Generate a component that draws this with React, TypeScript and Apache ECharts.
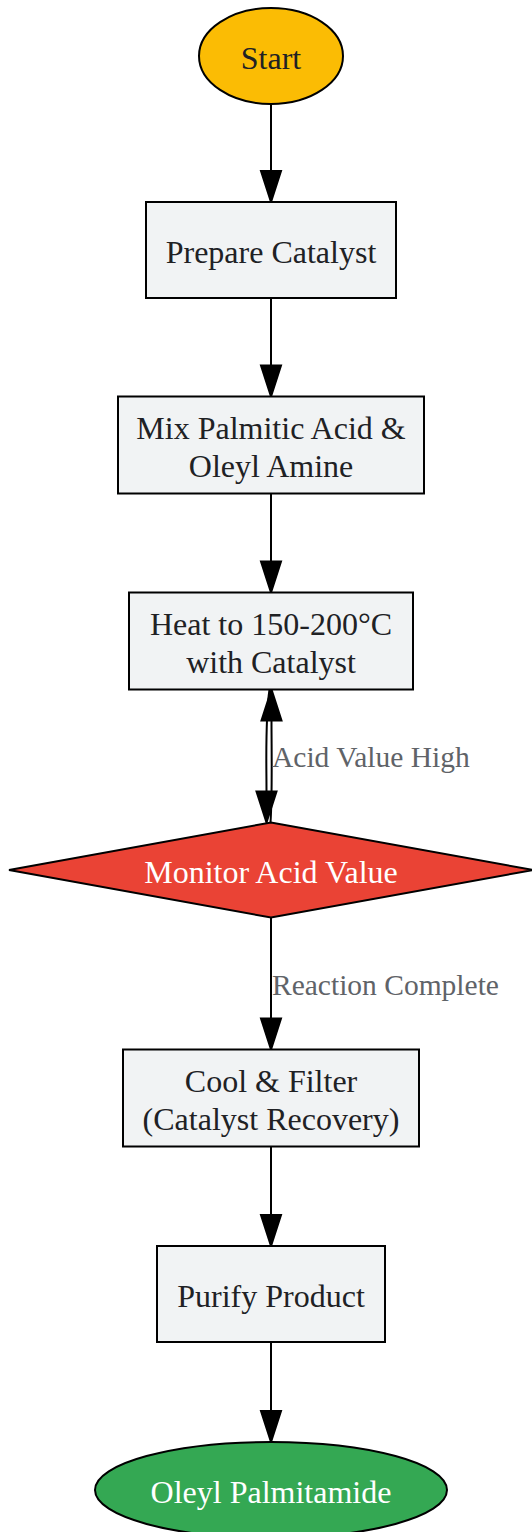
import React, { useEffect, useRef } from "react";
import * as echarts from "echarts";

const W = 532;
const H = 1532;

// Flowchart content
const nodeLabels = [
  "Start",
  "Prepare Catalyst",
  "Mix Palmitic Acid &\nOleyl Amine",
  "Heat to 150-200°C\nwith Catalyst",
  "Monitor Acid Value",
  "Cool & Filter\n(Catalyst Recovery)",
  "Purify Product",
  "Oleyl Palmitamide",
];
const nodeShapes = ["ellipse", "box", "box", "box", "diamond", "box", "box", "ellipse"];
const nodeFills = ["#fbbc04", "#f1f3f4", "#f1f3f4", "#f1f3f4", "#ea4335", "#f1f3f4", "#f1f3f4", "#34a853"];
const nodeTextColors = ["#202124", "#202124", "#202124", "#202124", "#ffffff", "#202124", "#202124", "#ffffff"];

// edges: [from, to, label]
const edgeFrom = [0, 1, 2, 3, 4, 4, 5, 6];
const edgeTo = [1, 2, 3, 4, 3, 5, 6, 7];
const edgeLabels = ["", "", "", "", "Acid Value High", "Reaction Complete", "", ""];

// layout (pixels)
const CX = 271;
const centerY = [56, 250, 445, 641, 870, 1098, 1294, 1490];
const halfW = [72, 125, 153, 142, 262, 148, 114, 176];
const halfH = [48, 48, 48.5, 48.5, 47.5, 48.5, 48, 48];

const FONT = "'Liberation Serif', 'Times New Roman', serif";
const NODE_FS = 32;
const EDGE_FS = 29.5;
const ARROW_LEN = 31;
const ARROW_HW = 10;
const TEXT_DY = 1.5;

function buildGraphics() {
  const els: any[] = [];
  edgeFrom.forEach((f, i) => {
    const t = edgeTo[i];
    const down = centerY[t] > centerY[f];
    const pairBack = edgeFrom.some((f2, j) => j !== i && f2 === t && edgeTo[j] === f);
    const srcY = down ? centerY[f] + halfH[f] : centerY[f] - halfH[f];
    const tipY = down ? centerY[t] - halfH[t] : centerY[t] + halfH[t];
    const baseY = down ? tipY - ARROW_LEN : tipY + ARROW_LEN;
    let tipX = CX;
    if (pairBack) {
      if (down) {
        tipX = CX - 4.5;
        els.push({
          type: "bezierCurve",
          shape: { x1: CX - 1.5, y1: srcY, cpx1: CX - 6, cpy1: srcY + 30, cpx2: tipX, cpy2: baseY - 30, x2: tipX, y2: baseY },
          style: { stroke: "#000", lineWidth: 2, fill: null },
        });
      } else {
        tipX = CX + 0.5;
        els.push({
          type: "bezierCurve",
          shape: { x1: CX - 0.5, y1: srcY, cpx1: CX + 1.5, cpy1: srcY - 30, cpx2: tipX, cpy2: baseY + 30, x2: tipX, y2: baseY },
          style: { stroke: "#000", lineWidth: 2, fill: null },
        });
      }
    } else {
      els.push({
        type: "line",
        shape: { x1: CX, y1: srcY, x2: CX, y2: baseY },
        style: { stroke: "#000", lineWidth: 2 },
      });
    }
    els.push({
      type: "polygon",
      shape: { points: [[tipX - ARROW_HW, baseY], [tipX + ARROW_HW, baseY], [tipX, tipY]] },
      style: { fill: "#000", stroke: "#000", lineWidth: 2 },
    });
    if (edgeLabels[i]) {
      const midY = (srcY + tipY) / 2;
      els.push({
        type: "text",
        x: CX + 1,
        y: midY + 1,
        style: {
          text: edgeLabels[i],
          fill: "#5f6368",
          fontSize: EDGE_FS,
          fontFamily: FONT,
          align: "left",
          verticalAlign: "middle",
        },
      });
    }
  });

  nodeLabels.forEach((label, i) => {
    const cy = centerY[i];
    const hw = halfW[i];
    const hh = halfH[i];
    const style = { fill: nodeFills[i], stroke: "#000", lineWidth: 2 };
    if (nodeShapes[i] === "ellipse") {
      els.push({ type: "ellipse", shape: { cx: CX, cy, rx: hw, ry: hh }, style });
    } else if (nodeShapes[i] === "box") {
      els.push({ type: "rect", shape: { x: CX - hw, y: cy - hh, width: hw * 2, height: hh * 2 }, style });
    } else {
      els.push({
        type: "polygon",
        shape: { points: [[CX - hw, cy], [CX, cy - hh], [CX + hw, cy], [CX, cy + hh]] },
        style,
      });
    }
    els.push({
      type: "text",
      x: CX,
      y: cy + TEXT_DY,
      style: {
        text: label,
        fill: nodeTextColors[i],
        fontSize: NODE_FS,
        fontFamily: FONT,
        lineHeight: 38,
        align: "center",
        verticalAlign: "middle",
      },
    });
  });
  return els;
}

export default function App() {
  const ref = useRef<HTMLDivElement>(null);
  useEffect(() => {
    document.body.style.margin = "0";
    const chart = echarts.init(ref.current!, null, { renderer: "svg", width: W, height: H });
    chart.setOption({
      animation: false,
      backgroundColor: "#ffffff",
      graphic: { elements: buildGraphics() },
    });
    return () => chart.dispose();
  }, []);
  return <div ref={ref} style={{ width: W, height: H, position: "absolute", left: 0, top: 0 }} />;
}
